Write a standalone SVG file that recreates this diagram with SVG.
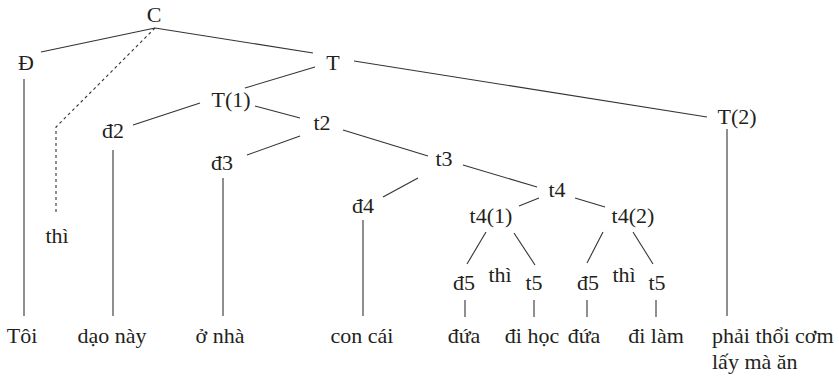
<svg xmlns="http://www.w3.org/2000/svg" width="839" height="378" viewBox="0 0 839 378">
  <style>
    text { font-family: "Liberation Serif", "Times New Roman", "DejaVu Serif", serif; font-size: 22px; fill: #231f20; text-anchor: middle; }
    .l { text-anchor: start; }
    .edge { stroke: #333; stroke-width: 1.1; fill: none; }
    .dash { stroke-dasharray: 3 3; }
  </style>
  <rect width="839" height="378" fill="#fff"/>

  <g id="connectors">
    <line class="edge" x1="155" y1="28" x2="41" y2="52"/>
    <line class="edge" x1="155" y1="28" x2="313" y2="53"/>
    <polyline class="edge dash" points="155,28 56,127 56,212"/>
    <line class="edge" x1="24" y1="79" x2="24" y2="316"/>
    <line class="edge" x1="354" y1="61" x2="707" y2="117"/>
    <line class="edge" x1="315" y1="67" x2="245" y2="88"/>
    <line class="edge" x1="200" y1="103" x2="133" y2="125"/>
    <line class="edge" x1="255" y1="106" x2="300" y2="118"/>
    <line class="edge" x1="113" y1="150" x2="113" y2="316"/>
    <line class="edge" x1="300" y1="136" x2="247" y2="155"/>
    <line class="edge" x1="343" y1="130" x2="428" y2="156"/>
    <line class="edge" x1="223" y1="178" x2="223" y2="316"/>
    <line class="edge" x1="418" y1="178" x2="383" y2="197"/>
    <line class="edge" x1="463" y1="165" x2="537" y2="187"/>
    <line class="edge" x1="363" y1="220" x2="363" y2="316"/>
    <line class="edge" x1="539" y1="198" x2="519" y2="206"/>
    <line class="edge" x1="575" y1="198" x2="605" y2="207"/>
    <line class="edge" x1="486" y1="232" x2="467" y2="264"/>
    <line class="edge" x1="514" y1="233" x2="535" y2="265"/>
    <line class="edge" x1="603" y1="232" x2="587" y2="263"/>
    <line class="edge" x1="633" y1="232" x2="653" y2="264"/>
    <line class="edge" x1="465" y1="300" x2="465" y2="317"/>
    <line class="edge" x1="534" y1="300" x2="534" y2="317"/>
    <line class="edge" x1="587" y1="300" x2="587" y2="317"/>
    <line class="edge" x1="656" y1="300" x2="656" y2="317"/>
    <line class="edge" x1="727" y1="129" x2="727" y2="316"/>
  </g>

  <g id="n-C"><text x="154" y="22">C</text></g>
  <g id="n-D"><text x="26" y="70">Đ</text></g>
  <g id="n-T"><text x="333" y="70">T</text></g>
  <g id="n-thi0"><text x="57" y="243">thì</text></g>
  <g id="n-T1"><text x="231" y="107">T(1)</text></g>
  <g id="n-T2"><text x="737" y="124">T(2)</text></g>
  <g id="n-d2"><text x="113" y="138">đ2</text></g>
  <g id="n-t2"><text x="322" y="130">t2</text></g>
  <g id="n-d3"><text x="222" y="170">đ3</text></g>
  <g id="n-t3"><text x="444" y="166">t3</text></g>
  <g id="n-d4"><text x="363" y="213">đ4</text></g>
  <g id="n-t4"><text x="557" y="197">t4</text></g>
  <g id="n-t41"><text x="491" y="223">t4(1)</text></g>
  <g id="n-t42"><text x="633" y="223">t4(2)</text></g>
  <g id="n-d5a"><text x="464" y="290">đ5</text></g>
  <g id="n-thi1"><text x="500" y="282">thì</text></g>
  <g id="n-t5a"><text x="534" y="290">t5</text></g>
  <g id="n-d5b"><text x="588" y="290">đ5</text></g>
  <g id="n-thi2"><text x="624" y="282">thì</text></g>
  <g id="n-t5b"><text x="657" y="290">t5</text></g>

  <g id="w-toi"><text x="22" y="343">Tôi</text></g>
  <g id="w-daonay"><text x="112" y="343">dạo này</text></g>
  <g id="w-onha"><text x="220" y="343">ở nhà</text></g>
  <g id="w-concai"><text x="362" y="343">con cái</text></g>
  <g id="w-dua1"><text x="464" y="343">đứa</text></g>
  <g id="w-dihoc"><text x="532" y="343">đi học</text></g>
  <g id="w-dua2"><text x="584" y="343">đứa</text></g>
  <g id="w-dilam"><text x="656" y="343">đi làm</text></g>
  <g id="w-phai"><text class="l" x="712" y="343">phải thổi cơm</text><text class="l" x="712" y="369">lấy mà ăn</text></g>
</svg>
